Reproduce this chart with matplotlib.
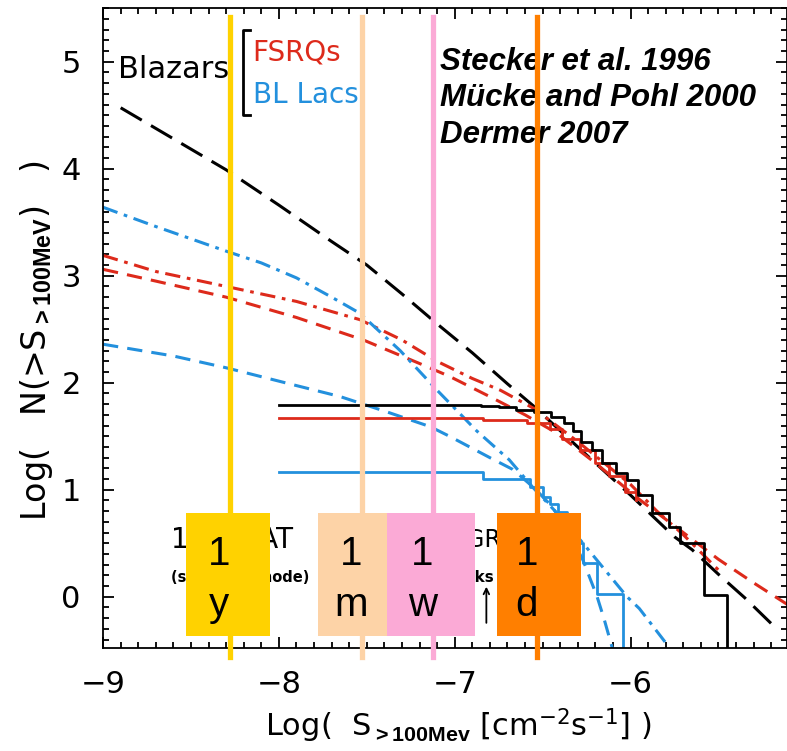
import matplotlib.pyplot as plt
import numpy as np
from matplotlib.patches import Rectangle
from matplotlib.ticker import MultipleLocator

# model curves: log S (x) vs log N(>S) (y)
blazar_model_x = [-8.9, -8.6, -8.3, -8.0, -7.7, -7.5, -7.3, -7.1, -6.9, -6.7, -6.55, -6.3, -6.0, -5.75, -5.65, -5.5, -5.35, -5.2]
blazar_model_y = [4.57, 4.28, 3.99, 3.66, 3.32, 3.10, 2.83, 2.55, 2.28, 1.99, 1.78, 1.40, 0.95, 0.56, 0.44, 0.21, -0.01, -0.25]

fsrq_dashdot_x = [-9.0, -8.7, -8.3, -7.9, -7.54, -7.3, -7.1, -6.9, -6.74, -6.55, -6.3, -6.0, -5.85, -5.7, -5.5]
fsrq_dashdot_y = [3.19, 3.04, 2.90, 2.76, 2.59, 2.40, 2.20, 2.04, 1.93, 1.76, 1.45, 1.05, 0.80, 0.58, 0.25]

fsrq_dashed_x = [-9.0, -8.7, -8.3, -7.9, -7.52, -7.2, -7.03, -6.8, -6.6, -6.42, -6.2, -5.95, -5.7, -5.5, -5.3, -5.11]
fsrq_dashed_y = [3.06, 2.95, 2.80, 2.61, 2.40, 2.18, 2.06, 1.87, 1.70, 1.53, 1.25, 0.91, 0.60, 0.35, 0.13, -0.07]

bll_dashdot_x = [-9.0, -8.7, -8.3, -8.1, -7.9, -7.7, -7.54, -7.31, -7.1, -6.875, -6.69, -6.56, -6.4, -6.27, -6.16, -6.02, -5.95, -5.8]
bll_dashdot_y = [3.64, 3.46, 3.23, 3.12, 2.98, 2.80, 2.65, 2.30, 1.93, 1.55, 1.28, 1.03, 0.75, 0.50, 0.28, 0.0, -0.11, -0.43]

bll_dashed_x = [-9.0, -8.6, -8.3, -7.94, -7.65, -7.39, -7.14, -7.03, -6.8, -6.67, -6.55, -6.45, -6.35, -6.27, -6.19, -6.15, -6.10]
bll_dashed_y = [2.36, 2.25, 2.14, 1.99, 1.87, 1.73, 1.59, 1.50, 1.30, 1.19, 1.02, 0.85, 0.60, 0.34, 0.0, -0.21, -0.50]

# observed cumulative counts (steps)
blazar_obs_x = [-8.0, -6.85, -6.75, -6.65, -6.55, -6.45, -6.38, -6.33, -6.28, -6.22, -6.16, -6.08, -6.02, -5.96, -5.88, -5.78, -5.72, -5.58, -5.45]
blazar_obs_y = [1.79, 1.78, 1.77, 1.75, 1.73, 1.68, 1.62, 1.55, 1.45, 1.37, 1.25, 1.16, 1.09, 0.95, 0.78, 0.65, 0.50, 0.02, -1.0]

fsrq_obs_x = [-8.0, -6.84, -6.59, -6.46, -6.39, -6.29, -6.2, -6.12, -6.03, -5.97]
fsrq_obs_y = [1.67, 1.65, 1.62, 1.57, 1.47, 1.37, 1.25, 1.13, 0.98, 0.90]

bll_obs_x = [-8.0, -6.84, -6.57, -6.50, -6.46, -6.41, -6.36, -6.32, -6.27, -6.19, -6.045]
bll_obs_y = [1.17, 1.10, 1.03, 0.93, 0.87, 0.79, 0.68, 0.50, 0.32, 0.03, -1.0]

# sensitivity lines
sens_x = [-8.28, -7.53, -7.125, -6.53]
sens_labels = ['y', 'm', 'w', 'd']
sens_colors = ['#FFD200', '#FDD3A7', '#FBAAD6', '#FF7F00']

red = '#DD2A1B'
blue = '#2390DD'

plt.rcParams['font.family'] = 'DejaVu Sans'
plt.rcParams['mathtext.fontset'] = 'custom'
plt.rcParams['mathtext.rm'] = 'DejaVu Sans'
plt.rcParams['mathtext.bf'] = 'Liberation Sans:bold'

fig = plt.figure(figsize=(7.87, 7.51), dpi=100)
ax = fig.add_axes([0.131, 0.137, 0.869, 0.852])

ax.plot(blazar_model_x, blazar_model_y, color='black', lw=2.2, ls=(0, (8, 3.5)))
ax.plot(fsrq_dashdot_x, fsrq_dashdot_y, color=red, lw=2.2, ls=(0, (5, 2.2, 1.2, 2.2)))
ax.plot(fsrq_dashed_x, fsrq_dashed_y, color=red, lw=2.2, ls=(0, (5, 3)))
ax.plot(bll_dashdot_x, bll_dashdot_y, color=blue, lw=2.2, ls=(0, (5, 2.2, 1.2, 2.2)))
ax.plot(bll_dashed_x, bll_dashed_y, color=blue, lw=2.2, ls=(0, (5, 3)))

ax.plot(fsrq_obs_x, fsrq_obs_y, color=red, lw=2, drawstyle='steps-post')
ax.plot(bll_obs_x, bll_obs_y, color=blue, lw=2, drawstyle='steps-post')
ax.plot(blazar_obs_x, blazar_obs_y, color='black', lw=2, drawstyle='steps-post')

# texts partly hidden under the boxes
ax.text(-8.265, 0.53, '1 yr  LAT', fontsize=20, ha='center', va='center', zorder=3)
ax.text(-8.22, 0.18, '(scanning mode)', fontsize=10.5, fontweight='bold', ha='center', va='center', zorder=3)
ax.text(-6.79, 0.53, 'EGRET', fontsize=17, ha='center', va='center', zorder=3)
ax.text(-6.92, 0.18, 'peaks', fontsize=11, fontweight='bold', ha='center', va='center', zorder=3)
ax.annotate('', xy=(-6.82, 0.12), xytext=(-6.82, -0.27),
            arrowprops=dict(arrowstyle='->', color='black', lw=1.3), zorder=3)

box_w = [0.48, 0.55, 0.50, 0.48]
box_off = [-0.01, 0.03, -0.01, 0.01]
for xs, lab, col, w, off in zip(sens_x, sens_labels, sens_colors, box_w, box_off):
    ax.plot([xs, xs], [-0.56, 5.42], color=col, lw=3.8, clip_on=False, zorder=4)
    ax.add_patch(Rectangle((xs + off - w / 2, -0.364), w, 1.15, facecolor=col,
                           edgecolor='none', zorder=5))
    ax.text(xs - 0.06, 0.30, '1', fontsize=29, ha='center', va='baseline',
            family='Liberation Sans', zorder=6)
    ax.text(xs - 0.06, -0.18, lab, fontsize=29, ha='center', va='baseline',
            family='Liberation Sans', zorder=6)

# legend-like labels
ax.text(-8.915, 4.93, 'Blazars', fontsize=22, ha='left', va='center')
ax.plot([-8.165, -8.205, -8.205, -8.165], [5.30, 5.30, 4.50, 4.50], color='black', lw=2)
ax.text(-8.15, 5.09, 'FSRQs', fontsize=20, color=red, ha='left', va='center')
ax.text(-8.15, 4.69, 'BL Lacs', fontsize=20, color=blue, ha='left', va='center')

for i, s in enumerate(['Stecker et al. 1996', 'Mücke and Pohl 2000', 'Dermer 2007']):
    ax.text(-7.085, 5.0 - 0.34 * i, s, fontsize=22.5, fontweight='bold', style='italic',
            family='Liberation Sans', ha='left', va='center')

ax.set_xlim(-9, -5.11)
ax.set_ylim(-0.48, 5.5)
ax.xaxis.set_major_locator(MultipleLocator(1))
ax.xaxis.set_minor_locator(MultipleLocator(0.1))
ax.yaxis.set_major_locator(MultipleLocator(1))
ax.yaxis.set_minor_locator(MultipleLocator(0.1))
ax.tick_params(which='both', direction='in', top=True, right=True, width=1.3, labelsize=22, pad=16)
ax.tick_params(which='major', length=8)
ax.tick_params(which='minor', length=4)
for sp in ax.spines.values():
    sp.set_linewidth(1.3)

ax.set_xlabel(r'Log(  S$_{\mathbf{>100Mev}}$ [cm$^{-2}$s$^{-1}$] )', fontsize=22)
ax.set_ylabel(r'Log(   N(>S$_{\mathbf{>100MeV}}$)   )', fontsize=24)
ax.xaxis.set_label_coords(0.52, -0.092)
ax.yaxis.set_label_coords(-0.07, 0.48)

fig.savefig('out.png', dpi=100)
